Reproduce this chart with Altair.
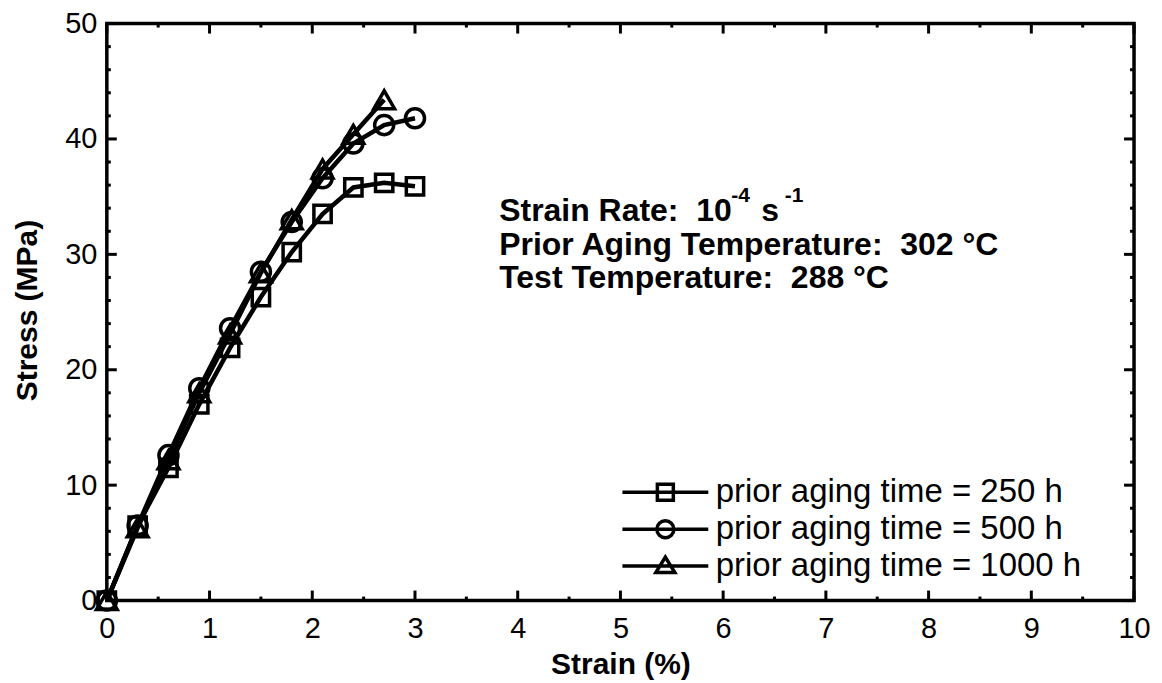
import altair as alt
import pandas as pd

# ---------------- data ----------------
strain = [0, 0.3, 0.6, 0.9, 1.2, 1.5, 1.8, 2.1, 2.4, 2.7, 3.0]
stress_250 = [0, 6.5, 11.5, 17.0, 21.9, 26.3, 30.2, 33.5, 35.8, 36.2, 35.9]
stress_500 = [0, 6.5, 12.6, 18.4, 23.6, 28.5, 32.8, 36.6, 39.6, 41.2, 41.8]
stress_1000 = [0, 6.3, 12.2, 18.0, 23.1, 28.4, 33.0, 37.4, 40.4, 43.4]
series_labels = ["prior aging time = 250 h",
                 "prior aging time = 500 h",
                 "prior aging time = 1000 h"]

x_major = list(range(0, 11))
x_minor = [0.5, 1.5, 2.5, 3.5, 4.5, 5.5, 6.5, 7.5, 8.5, 9.5]
y_major = [0, 10, 20, 30, 40, 50]
y_minor = [2, 4, 6, 8, 12, 14, 16, 18, 22, 24, 26, 28, 32, 34, 36, 38, 42, 44, 46, 48]

ann_text = ["Strain Rate:\u00a0 10", "s",
            "Prior Aging Temperature:\u00a0 302 \u00b0C",
            "Test Temperature:\u00a0 288 \u00b0C"]
ann_x = [3.82, 6.37, 3.82, 3.82]
ann_y = [32.93, 32.93, 29.91, 27.07]
sup_text = ["-4", "-1"]
sup_x = [6.08, 6.60]
sup_y = [34.55, 34.55]

# ---------------- tables ----------------
rows = []
for lab, ys in zip(series_labels, [stress_250, stress_500, stress_1000]):
    for xv, yv in zip(strain, ys):
        rows.append({"strain": xv, "stress": yv, "series": lab})
df = pd.DataFrame(rows)
df_leg = pd.DataFrame({"label": series_labels})
df_ann = pd.DataFrame({"t": ann_text, "x": ann_x, "y": ann_y})
df_sup = pd.DataFrame({"t": sup_text, "x": sup_x, "y": sup_y})

W, H = 1029, 578
FONT = "Liberation Sans"
xs = alt.Scale(domain=[0, 10], nice=False, zero=False)
ys = alt.Scale(domain=[0, 50], nice=False, zero=False)

x_axis = alt.Axis(values=x_major, ticks=False, domain=False, grid=False,
                  labelFontSize=29, labelFont=FONT, labelColor="black",
                  labelPadding=14, labelFlush=False, labelOverlap=False,
                  title="Strain (%)", titleFontSize=30, titleFont=FONT,
                  titleFontWeight="bold", titleColor="black",
                  titleY=64, titleBaseline="middle")
y_axis = alt.Axis(values=y_major, ticks=False, domain=False, grid=False,
                  labelFontSize=29, labelFont=FONT, labelColor="black",
                  labelPadding=10, labelFlush=False, labelOverlap=False,
                  title="Stress (MPa)", titleFontSize=30, titleFont=FONT,
                  titleFontWeight="bold", titleColor="black",
                  titleX=-79, titleY=287, titleAngle=270,
                  titleAlign="center", titleBaseline="middle")


def X(field):
    return alt.X(field, scale=xs, axis=x_axis)


def Y(field):
    return alt.Y(field, scale=ys, axis=y_axis)


lines = alt.Chart(df).mark_line(color="black", strokeWidth=4.5).encode(
    x=X("strain:Q"), y=Y("stress:Q"), detail="series:N",
)

points = alt.Chart(df).mark_point(filled=False, color="black", strokeWidth=3.5, opacity=1).encode(
    x=X("strain:Q"), y=Y("stress:Q"),
    shape=alt.Shape("series:N",
                    scale=alt.Scale(domain=series_labels,
                                    range=["square", "circle", "triangle-up"]),
                    legend=None),
    size=alt.Size("series:N",
                  scale=alt.Scale(domain=series_labels, range=[300, 430, 480]),
                  legend=None),
)

legend_paths = [
    "M-4.3,0L4.3,0M-0.8,-0.8L0.8,-0.8L0.8,0.8L-0.8,0.8Z",
    "M-4.3,0L4.3,0M-0.85,0A0.85,0.85,0,1,1,0.85,0A0.85,0.85,0,1,1,-0.85,0Z",
    "M-4.3,0L4.3,0M0,-0.9L0.95,0.65L-0.95,0.65Z",
]
legend_layer = alt.Chart(df_leg).transform_filter("false").mark_point(
    filled=False, color="black", strokeWidth=3.5
).encode(
    shape=alt.Shape("label:N",
                    scale=alt.Scale(domain=series_labels, range=legend_paths),
                    legend=alt.Legend(title=None, orient="none",
                                      legendX=543, legendY=453,
                                      symbolSize=400, symbolStrokeWidth=3.5,
                                      symbolStrokeColor="black",
                                      symbolFillColor="transparent",
                                      symbolOpacity=1,
                                      labelFontSize=33, labelFont=FONT,
                                      labelColor="black", labelOffset=34,
                                      rowPadding=3, padding=0, labelLimit=500)),
)

ann = alt.Chart(df_ann).mark_text(align="left", baseline="alphabetic",
                                  font=FONT, fontSize=32, fontWeight="bold",
                                  color="black").encode(
    x=X("x:Q"), y=Y("y:Q"), text="t:N")
sup = alt.Chart(df_sup).mark_text(align="left", baseline="alphabetic",
                                  font=FONT, fontSize=21, fontWeight="bold",
                                  color="black").encode(
    x=X("x:Q"), y=Y("y:Q"), text="t:N")


# inward ticks on all four sides
def vticks(vals, y0, y1):
    return alt.Chart(pd.DataFrame({"v": vals})).mark_rule(color="black", strokeWidth=3).encode(
        x=X("v:Q"), y=alt.value(y0), y2=alt.value(y1))


def hticks(vals, x0, x1):
    return alt.Chart(pd.DataFrame({"v": vals})).mark_rule(color="black", strokeWidth=3).encode(
        y=Y("v:Q"), x=alt.value(x0), x2=alt.value(x1))


ticks = [
    vticks(x_major, H, H - 10), vticks(x_minor, H, H - 4),
    vticks(x_major, 0, 10), vticks(x_minor, 0, 4),
    hticks(y_major, 0, 10), hticks(y_minor, 0, 4),
    hticks(y_major, W, W - 10), hticks(y_minor, W, W - 4),
]

chart = alt.layer(lines, *ticks, points, legend_layer, ann, sup).resolve_scale(
    shape="independent", size="independent"
).properties(
    width=W, height=H,
    autosize=alt.AutoSizeParams(type="none"),
    padding={"left": 99, "top": 15, "right": 20, "bottom": 80},
    background="white",
).configure_view(stroke="black", strokeWidth=3.5)

chart.save("out.html", embed_options={"renderer": "svg", "actions": False})
